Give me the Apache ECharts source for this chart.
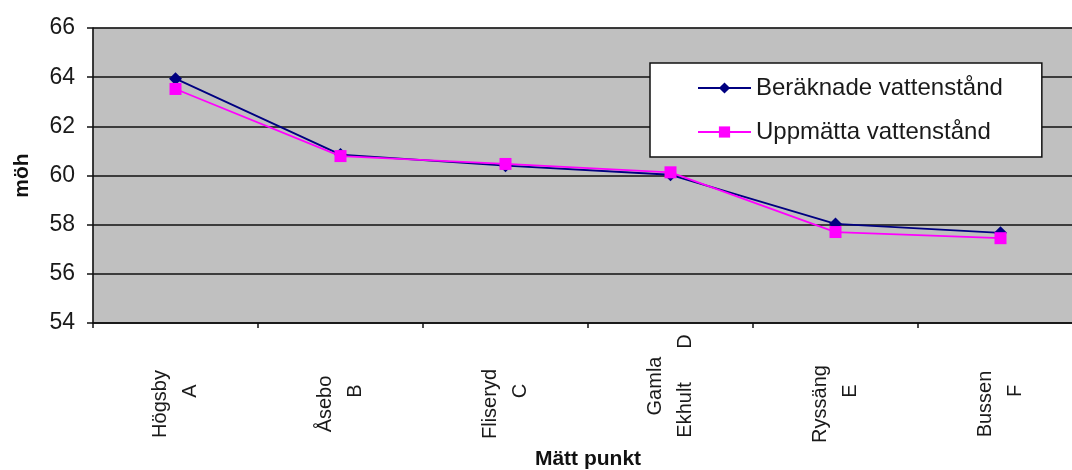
<!DOCTYPE html>
<html>
<head>
<meta charset="utf-8">
<script src="https://cdn.jsdelivr.net/npm/echarts@6/dist/echarts.min.js"></script>
<style>
html,body{margin:0;padding:0;background:#fff;}
#chart{width:1072px;height:470px;}
</style>
</head>
<body>
<div id="chart"></div>
<script>
var categories = ['Högsby\nA', 'Åsebo\nB', 'Fliseryd\nC', 'Gamla\nEkhult      D', 'Ryssäng\nE', 'Bussen\nF'];
var beraknade = [63.94, 60.85, 60.4, 60.03, 58.03, 57.67];
var uppmatta = [63.52, 60.79, 60.47, 60.13, 57.7, 57.45];
var yTicks = { min: 54, max: 66, interval: 2 };
var seriesNames = ['Beräknade vattenstånd', 'Uppmätta vattenstånd'];

var font = '"Liberation Sans", Arial, sans-serif';
var chart = echarts.init(document.getElementById('chart'), null, { renderer: 'canvas' });

function xLabel(v) {
  var parts = v.split('\n');
  if (parts[1].length === 1) {
    return '{a|' + parts[0] + '}\n{b|' + parts[1] + '}';
  }
  return '{g|' + parts[0] + '}\n{c|' + parts[1] + '}';
}

chart.setOption({
  animation: false,
  backgroundColor: '#ffffff',
  grid: {
    left: 93, top: 28, width: 990, height: 295,
    outerBoundsMode: 'none',
    containLabel: false,
    show: true, backgroundColor: '#c0c0c0', borderColor: '#808080', borderWidth: 1
  },
  legend: {
    left: 650, top: 63,
    orient: 'vertical',
    itemWidth: 53, itemHeight: 14, itemGap: 20,
    padding: [13, 39, 13, 47],
    backgroundColor: '#ffffff',
    borderColor: '#111111', borderWidth: 1.5, borderRadius: 0,
    textStyle: { fontFamily: font, fontSize: 24, color: '#1a1a1a', lineHeight: 23 },
    data: seriesNames
  },
  xAxis: {
    type: 'category',
    data: categories,
    boundaryGap: true,
    name: 'Mätt punkt',
    nameLocation: 'middle',
    nameGap: 126,
    nameMoveOverlap: false,
    nameTextStyle: { fontFamily: font, fontSize: 21, fontWeight: 'bold', color: '#111' },
    axisLine: { show: true, lineStyle: { color: '#111', width: 1.5 } },
    axisTick: { show: true, length: 5, lineStyle: { color: '#111', width: 1.5 } },
    axisLabel: {
      interval: 0,
      rotate: 90,
      align: 'center',
      margin: 81,
      color: '#1a1a1a',
      fontFamily: font,
      fontSize: 20,
      formatter: xLabel,
      rich: {
        a: { fontFamily: font, fontSize: 20, color: '#1a1a1a', lineHeight: 30 },
        b: { fontFamily: font, fontSize: 20, color: '#1a1a1a', lineHeight: 30, padding: [0, 0, 0, 26] },
        g: { fontFamily: font, fontSize: 20, color: '#1a1a1a', lineHeight: 30, padding: [0, 0, 0, 36] },
        c: { fontFamily: font, fontSize: 20, color: '#1a1a1a', lineHeight: 30, padding: [0, 0, 0, 36] }
      }
    },
    splitLine: { show: false }
  },
  yAxis: {
    type: 'value',
    min: yTicks.min, max: yTicks.max, interval: yTicks.interval,
    name: 'möh',
    nameLocation: 'middle',
    nameGap: 60,
    nameRotate: 90,
    nameMoveOverlap: false,
    nameTextStyle: { fontFamily: font, fontSize: 21, fontWeight: 'bold', color: '#111' },
    axisLine: { show: true, lineStyle: { color: '#111', width: 1.5 } },
    axisTick: { show: true, length: 6, inside: false, lineStyle: { color: '#111', width: 1.5 } },
    axisLabel: { margin: 18, color: '#1a1a1a', fontFamily: font, fontSize: 23 },
    splitLine: { show: true, lineStyle: { color: '#111', width: 1.5 } }
  },
  series: [
    {
      name: seriesNames[0],
      type: 'line',
      data: beraknade,
      symbol: 'diamond',
      symbolSize: 13,
      color: '#000080',
      lineStyle: { color: '#000080', width: 1.8 },
      itemStyle: { color: '#000080' },
      z: 3
    },
    {
      name: seriesNames[1],
      type: 'line',
      data: uppmatta,
      symbol: 'rect',
      symbolSize: 12,
      color: '#ff00ff',
      lineStyle: { color: '#ff00ff', width: 1.8 },
      itemStyle: { color: '#ff00ff' },
      z: 4
    }
  ]
});
</script>
</body>
</html>
